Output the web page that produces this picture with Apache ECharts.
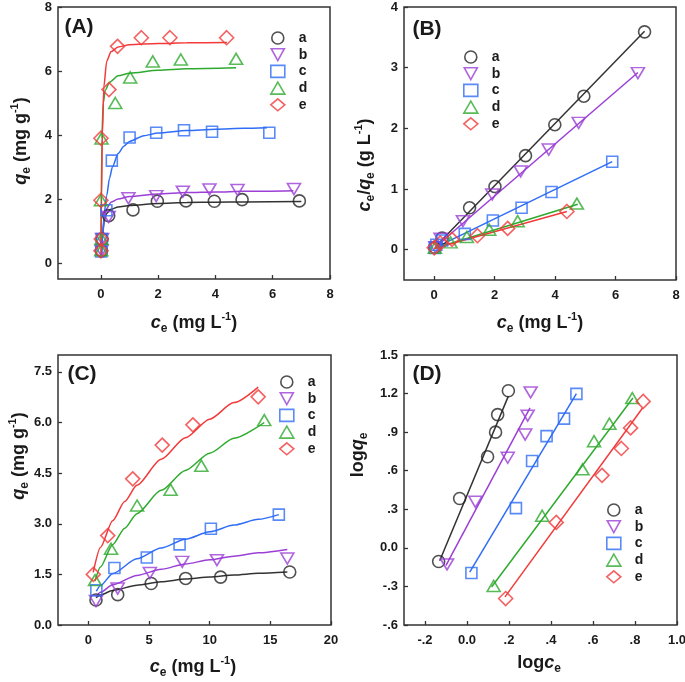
<!DOCTYPE html>
<html><head><meta charset="utf-8">
<script src="https://cdn.jsdelivr.net/npm/echarts@6/dist/echarts.min.js"></script>
<style>html,body{margin:0;padding:0;background:#fff}#c{width:685px;height:682px}</style>
</head><body><div id="c"></div>
<script>
const seriesNames = ['a','b','c','d','e'];

// Panel A: qe vs ce (points)
const ptsA = [
  [[0.02,0.38],[0.04,0.75],[0.27,1.48],[1.12,1.66],[1.97,1.93],[2.97,1.94],[3.96,1.93],[4.93,1.98],[6.93,1.94]],
  [[0.02,0.38],[0.04,0.75],[0.27,1.44],[0.96,2.02],[1.93,2.09],[2.86,2.23],[3.79,2.30],[4.77,2.28],[6.74,2.31]],
  [[0.01,0.36],[0.03,0.75],[0.19,1.65],[0.38,3.2],[1.0,3.92],[1.93,4.07],[2.9,4.15],[3.88,4.1],[5.88,4.07]],
  [[0.01,0.4],[0.02,0.75],[0.0,1.96],[0.02,3.89],[0.5,5.0],[1.02,5.8],[1.81,6.3],[2.79,6.36],[4.72,6.38]],
  [[0.0,0.38],[0.01,0.75],[0.0,1.96],[0.0,3.9],[0.28,5.42],[0.58,6.77],[1.41,7.04],[2.41,7.04],[4.39,7.04]]
];
// Panel A: fitted curves
const fitA = [
  [[0.02,0.3],[0.06,0.9],[0.12,1.35],[0.2,1.55],[0.35,1.68],[0.6,1.75],[1,1.8],[2,1.86],[3,1.89],[4,1.9],[5,1.91],[7,1.92]],
  [[0.02,0.3],[0.06,0.9],[0.1,1.3],[0.2,1.7],[0.35,1.9],[0.6,2.0],[1,2.08],[2,2.16],[3,2.2],[4,2.22],[5,2.24],[6.72,2.26]],
  [[0.02,0.2],[0.06,0.9],[0.12,1.6],[0.2,2.1],[0.3,2.65],[0.4,3.0],[0.6,3.42],[0.8,3.65],[1,3.8],[1.5,3.98],[2,4.06],[3,4.14],[4,4.18],[5,4.21],[5.8,4.23]],
  [[0.0,0.5],[0.03,3.9],[0.08,5.0],[0.15,5.4],[0.3,5.65],[0.6,5.85],[1,5.93],[2,6.02],[3,6.07],[4.72,6.1]],
  [[0.0,0.2],[0.02,2.0],[0.05,4.0],[0.1,5.5],[0.2,6.3],[0.35,6.6],[0.6,6.75],[1,6.82],[2,6.86],[3,6.88],[4.4,6.89]]
];

// Panel B: ce/qe vs ce
const ptsB = [
  [[0.02,0.04],[0.26,0.19],[1.17,0.69],[2.01,1.04],[3.02,1.55],[3.99,2.06],[4.95,2.53],[6.96,3.59]],
  [[0.04,0.04],[0.21,0.18],[0.95,0.47],[1.92,0.91],[2.86,1.29],[3.79,1.65],[4.78,2.09],[6.74,2.91]],
  [[0.02,0.03],[0.07,0.08],[0.26,0.15],[1.01,0.26],[1.94,0.48],[2.89,0.69],[3.88,0.95],[5.89,1.45]],
  [[0.02,0.03],[0.54,0.12],[1.08,0.21],[1.82,0.33],[2.76,0.47],[4.72,0.76]],
  [[0.0,0.03],[0.2,0.11],[0.59,0.17],[1.43,0.23],[2.43,0.35],[4.39,0.63]]
];
const fitB = [
  [[0.1,0.08],[6.96,3.6]],
  [[0.03,0.04],[6.74,2.92]],
  [[0.02,0.03],[5.89,1.45]],
  [[0.0,0.02],[4.75,0.75]],
  [[0.0,0.02],[4.39,0.63]]
];

// Panel C: qe vs ce (Freundlich)
const ptsC = [
  [[0.63,0.74],[2.42,0.9],[5.18,1.23],[8.02,1.38],[10.9,1.42],[16.6,1.57]],
  [[0.63,0.71],[2.42,1.08],[5.07,1.54],[7.74,1.87],[10.6,1.92],[16.4,1.97]],
  [[0.66,1.03],[2.15,1.69],[4.82,2.0],[7.52,2.39],[10.1,2.85],[15.7,3.27]],
  [[0.55,1.33],[1.87,2.26],[4.02,3.54],[6.78,4.01],[9.31,4.72],[14.5,6.07]],
  [[0.41,1.5],[1.6,2.65],[3.66,4.33],[6.09,5.33],[8.62,5.93],[14.0,6.76]]
];
const fitC = [
  [[0.63,0.81],[1,0.89],[2,1.02],[4,1.18],[6,1.28],[8,1.36],[10,1.42],[12,1.48],[14,1.53],[16.4,1.57]],
  [[0.63,0.84],[1,0.97],[2,1.19],[4,1.47],[6,1.65],[8,1.81],[10,1.93],[12,2.04],[14,2.14],[16.4,2.24]],
  [[0.66,1.0],[1,1.17],[2,1.52],[4,1.96],[6,2.28],[8,2.54],[10,2.76],[12,2.96],[14,3.13],[15.7,3.27]],
  [[0.55,1.3],[1,1.72],[2,2.38],[3,2.87],[4,3.3],[6,3.99],[8,4.58],[10,5.09],[12,5.53],[14.5,6.0]],
  [[0.4,1.56],[1,2.3],[2,3.09],[3,3.66],[4,4.14],[6,4.91],[8,5.55],[10,6.1],[12,6.59],[14,7.05]]
];

// Panel D: log qe vs log ce
const ptsD = [
  [[-0.135,-0.106],[-0.035,0.384],[0.098,0.709],[0.136,0.9],[0.146,1.036],[0.197,1.222]],
  [[-0.095,-0.129],[0.04,0.358],[0.194,0.701],[0.277,0.881],[0.289,1.028],[0.303,1.209]],
  [[0.021,-0.196],[0.233,0.309],[0.31,0.675],[0.379,0.869],[0.462,1.005],[0.521,1.198]],
  [[0.127,-0.296],[0.358,0.25],[0.55,0.611],[0.605,0.83],[0.678,0.966],[0.787,1.165]],
  [[0.184,-0.394],[0.425,0.198],[0.643,0.564],[0.735,0.773],[0.779,0.933],[0.839,1.139]]
];
const fitD = [
  [[-0.13,-0.1],[0.197,1.18]],
  [[-0.1,-0.137],[0.3,1.088]],
  [[0.013,-0.188],[0.521,1.2]],
  [[0.117,-0.304],[0.79,1.165]],
  [[0.181,-0.381],[0.836,1.088]]
];

// Tick values and labels
const ticksAx = [0,2,4,6,8], labelsAx = ['0','2','4','6','8'];
const ticksAy = [0,2,4,6,8], labelsAy = ['0','2','4','6','8'];
const ticksBx = [0,2,4,6,8], labelsBx = ['0','2','4','6','8'];
const ticksBy = [0,1,2,3,4], labelsBy = ['0','1','2','3','4'];
const ticksCx = [0,5,10,15,20], labelsCx = ['0','5','10','15','20'];
const ticksCy = [0,1.5,3,4.5,6,7.5], labelsCy = ['0.0','1.5','3.0','4.5','6.0','7.5'];
const ticksDx = [-0.2,0,0.2,0.4,0.6,0.8,1.0], labelsDx = ['-.2','0.0','.2','.4','.6','.8','1.0'];
const ticksDy = [-0.6,-0.3,0,0.3,0.6,0.9,1.2,1.5], labelsDy = ['-.6','-.3','0.0','.3','.6','.9','1.2','1.5'];

// Styles
const colors = ['#262626','#9b3fd6','#2f6df6','#2eaa2e','#f23a3a'];
const lineColors = ['#333333','#9b3fd6','#2f6df6','#2eaa2e','#f23a3a'];
const symbols = ['circle','triangle','rect','triangle','diamond'];
const legendIcons = ['circle','path://M0,0 L12,0 L6,11 Z','rect','triangle','diamond'];
const symRot = [0,180,0,0,0];
const symSize = [12,[13,11],11,[13,11],[14,14]];
const FONT = 'Liberation Sans, Arial, sans-serif';
const TXT = '#1a1a1a';

const grids = [
  {left:58, top:7, width:272, height:272},
  {left:404, top:7, width:272, height:273},
  {left:58, top:355, width:273, height:270},
  {left:404, top:355, width:273, height:270}
];

function fmt(ticks, labels){ return function(v){ for(let i=0;i<ticks.length;i++){ if(Math.abs(ticks[i]-v)<1e-9) return labels[i]; } return ''; }; }
function axis(gi, min, max, ticks, labels, isX){
  return {
    type:'value', gridIndex:gi, min:min, max:max,
    position: isX?'bottom':'left',
    splitLine:{show:false}, axisLine:{show:false, onZero:false},
    axisTick:{show:true, inside:true, length:4, customValues:ticks, lineStyle:{color:'#333', width:1.3}},
    axisLabel:{customValues:ticks, formatter:fmt(ticks,labels), fontSize:13, fontWeight:'bold', fontFamily:FONT, color:TXT, margin: isX?9:6}
  };
}

const xAxes = [
  axis(0,-1.5,8,ticksAx,labelsAx,true),
  axis(1,-1,8,ticksBx,labelsBx,true),
  axis(2,-2.5,20,ticksCx,labelsCx,true),
  axis(3,-0.3,1.0,ticksDx,labelsDx,true)
];
const yAxes = [
  axis(0,-0.5,8,ticksAy,labelsAy,false),
  axis(1,-0.5,4,ticksBy,labelsBy,false),
  axis(2,0,8,ticksCy,labelsCy,false),
  axis(3,-0.6,1.5,ticksDy,labelsDy,false)
];

const series = [];
const panels = [[ptsA,fitA,true],[ptsB,fitB,false],[ptsC,fitC,true],[ptsD,fitD,false]];
panels.forEach(function(p, gi){
  for(let k=0;k<5;k++){
    series.push({
      type:'line', name:'fit'+gi+k, xAxisIndex:gi, yAxisIndex:gi, data:p[1][k],
      showSymbol:false, smooth: p[2]?0.25:false, smoothMonotone:'x',
      lineStyle:{color:lineColors[k], width:1.5}, silent:true, z:2, animation:false
    });
  }
  for(let k=0;k<5;k++){
    series.push({
      type:'scatter', name:seriesNames[k], xAxisIndex:gi, yAxisIndex:gi, data:p[0][k],
      symbol:symbols[k], symbolRotate:symRot[k], symbolSize:symSize[k],
      itemStyle:{color:'rgba(255,255,255,0)', borderColor:colors[k], borderWidth:1.6},
      z:3, animation:false
    });
  }
});

function legend(left, top){
  return {orient:'vertical', left:left, top:top, padding:0, itemWidth:14, itemHeight:12, itemGap:2.7,
    selectedMode:false,
    data: seriesNames.map(function(n,k){ return {name:n, icon:legendIcons[k]}; }),
    itemStyle:{borderWidth:1.6},
    textStyle:{fontSize:14, fontWeight:'bold', fontFamily:FONT, color:TXT, padding:[0,0,0,9], lineHeight:12}};
}

const baseRich = {
  n:{fontSize:18, fontWeight:'bold', fontFamily:FONT, lineHeight:24, fill:TXT},
  i:{fontSize:18, fontWeight:'bold', fontStyle:'italic', fontFamily:FONT, lineHeight:24, fill:TXT},
  s:{fontSize:12, fontWeight:'bold', fontFamily:FONT, verticalAlign:'bottom', lineHeight:12, fill:TXT},
  p:{fontSize:11, fontWeight:'bold', fontFamily:FONT, verticalAlign:'top', lineHeight:11, fill:TXT}
};
function title(x, y, text, rot){
  return {type:'text', x:x, y:y, rotation: rot?Math.PI/2:0, z:10,
    style:{text:text, rich:baseRich, align:'center', verticalAlign:'middle', fill:TXT}};
}
function panelLabel(x, y, t){
  return {type:'text', x:x, y:y, z:10, style:{text:t, fontSize:21, fontWeight:'bold', fontFamily:FONT, fill:TXT, align:'center', verticalAlign:'middle'}};
}

const graphics = [
  panelLabel(79,27,'(A)'), panelLabel(427,29,'(B)'), panelLabel(82,374,'(C)'), panelLabel(427,374,'(D)'),
  title(194,323,'{i|c}{s|e}{n| (mg L}{p|-1}{n|)}',false),
  title(540,323,'{i|c}{s|e}{n| (mg L}{p|-1}{n|)}',false),
  title(193,667,'{i|c}{s|e}{n| (mg L}{p|-1}{n|)}',false),
  title(539,663,'{n|log}{i|c}{s|e}',false),
  title(21,141,'{i|q}{s|e}{n| (mg g}{p|-1}{n|)}',true),
  title(365,165,'{i|c}{s|e}{n|/}{i|q}{s|e}{n| (g L}{p|-1}{n|)}',true),
  title(19,456,'{i|q}{s|e}{n| (mg g}{p|-1}{n|)}',true),
  title(358,455,'{n|log}{i|q}{s|e}',true)
];

const chart = echarts.init(document.getElementById('c'), null, {renderer:'canvas'});
chart.setOption({
  backgroundColor:'#ffffff',
  animation:false,
  grid: grids.map(function(g){ return Object.assign({show:true, borderColor:'#333', borderWidth:1.5, backgroundColor:'transparent', containLabel:false, outerBoundsMode:'none'}, g); }),
  xAxis:xAxes, yAxis:yAxes,
  legend:[legend(270,31), legend(463,50), legend(279,375), legend(606,503)],
  graphic:graphics,
  series:series
});
</script></body></html>
